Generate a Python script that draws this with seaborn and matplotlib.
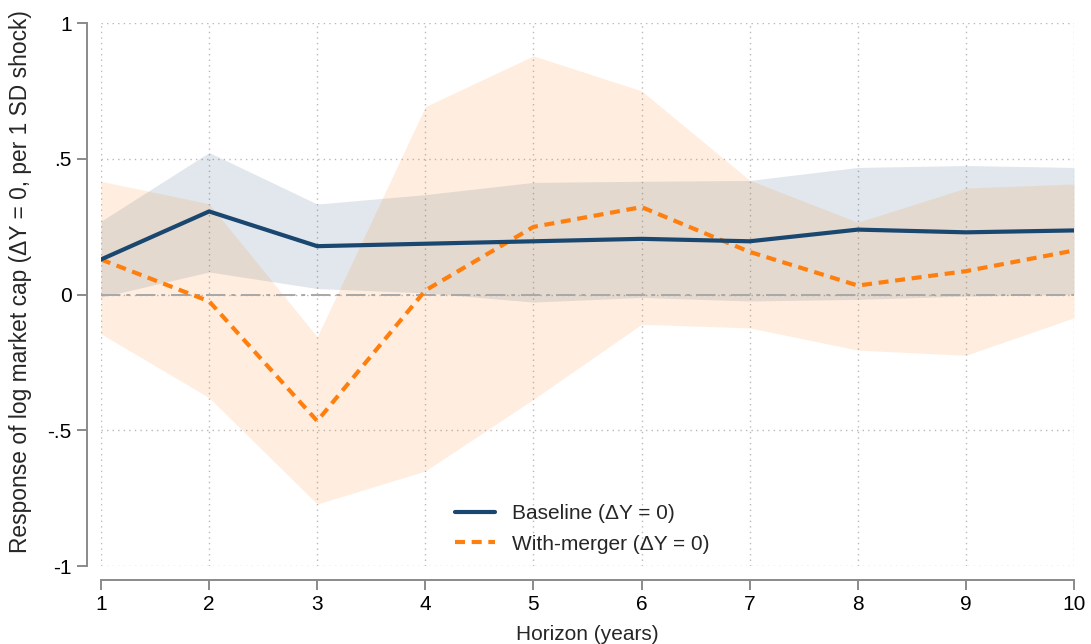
import numpy as np
import pandas as pd
import matplotlib
matplotlib.use("Agg")
import matplotlib.pyplot as plt
import seaborn as sns

horizon = [1, 2, 3, 4, 5, 6, 7, 8, 9, 10]

base_est = [0.129, 0.306, 0.178, 0.187, 0.196, 0.205, 0.196, 0.239, 0.229, 0.236]
base_lo = [-0.010, 0.083, 0.022, 0.006, -0.028, -0.011, -0.024, -0.018, -0.006, 0.000]
base_hi = [0.270, 0.523, 0.333, 0.368, 0.413, 0.417, 0.420, 0.468, 0.475, 0.468]

merg_est = [0.129, -0.025, -0.466, 0.015, 0.249, 0.322, 0.157, 0.033, 0.086, 0.162]
merg_lo = [-0.145, -0.380, -0.772, -0.650, -0.386, -0.110, -0.123, -0.205, -0.224, -0.086]
merg_hi = [0.417, 0.334, -0.156, 0.692, 0.879, 0.750, 0.421, 0.266, 0.392, 0.407]

series_names = ["Baseline (ΔY = 0)", "With-merger (ΔY = 0)"]
ytick_vals = [-1, -0.5, 0, 0.5, 1]
ytick_labels = ["-1", "-.5", "0", ".5", "1"]

navy = "#1a476f"
orange = "#ff7f0e"

sns.set_theme(style="white")
plt.rcParams["font.family"] = ["Liberation Sans", "DejaVu Sans"]

fig = plt.figure(figsize=(10.91, 6.44), dpi=100)
ax = fig.add_axes([101 / 1091, 1 - 566 / 644, 973 / 1091, 543 / 644])

# grid
for v in ytick_vals:
    ax.axhline(v, color="#b8b8b8", lw=1.0, ls=(0, (1, 3)), zorder=0)
for h in horizon:
    ax.axvline(h, color="#b8b8b8", lw=1.0, ls=(0, (1, 3)), zorder=0)

# CI bands
ax.fill_between(horizon, base_lo, base_hi, color=navy, alpha=0.13, lw=0, zorder=1)
ax.fill_between(horizon, merg_lo, merg_hi, color=orange, alpha=0.13, lw=0, zorder=1)

# zero line
ax.axhline(0, color="#a8a8a8", lw=1.4, ls=(0, (10, 3, 2, 3)), zorder=2)

df = pd.DataFrame({
    "horizon": horizon * 2,
    "value": base_est + merg_est,
    "series": [series_names[0]] * len(horizon) + [series_names[1]] * len(horizon),
})

sns.lineplot(data=df[df.series == series_names[0]], x="horizon", y="value",
             color=navy, lw=3.0, ax=ax, label=series_names[0], zorder=4)
sns.lineplot(data=df[df.series == series_names[1]], x="horizon", y="value",
             color=orange, lw=3.0, ax=ax, label=series_names[1], zorder=3,
             dashes=False)
ax.lines[-1].set_linestyle((0, (2.4, 1.6)))

ax.set_xlim(1, 10)
ax.set_ylim(-1, 1)
ax.set_xticks(horizon)
ax.set_xticklabels([str(h) for h in horizon])
ax.set_yticks(ytick_vals)
ax.set_yticklabels(ytick_labels)

for s in ["top", "right"]:
    ax.spines[s].set_visible(False)
for s in ["left", "bottom"]:
    ax.spines[s].set_position(("outward", 10))
    ax.spines[s].set_color("#8a8a8a")
    ax.spines[s].set_linewidth(1.4)
ax.tick_params(axis="both", which="major", direction="out", length=7, width=1.4,
               color="#8a8a8a", labelsize=15, labelcolor="black", pad=4,
               left=True, bottom=True)

ax.set_xlabel("Horizon (years)", fontsize=15, labelpad=8)
ax.set_ylabel("Response of log market cap (ΔY = 0, per 1 SD shock)", fontsize=16.4)
ax.yaxis.set_label_coords(-0.071, 0.523)

leg = ax.legend(loc="lower left", bbox_to_anchor=(0.345, -0.012), frameon=False,
                fontsize=15, handlelength=1.9, handletextpad=0.8, labelspacing=0.55)

fig.savefig("out.png", dpi=100)
